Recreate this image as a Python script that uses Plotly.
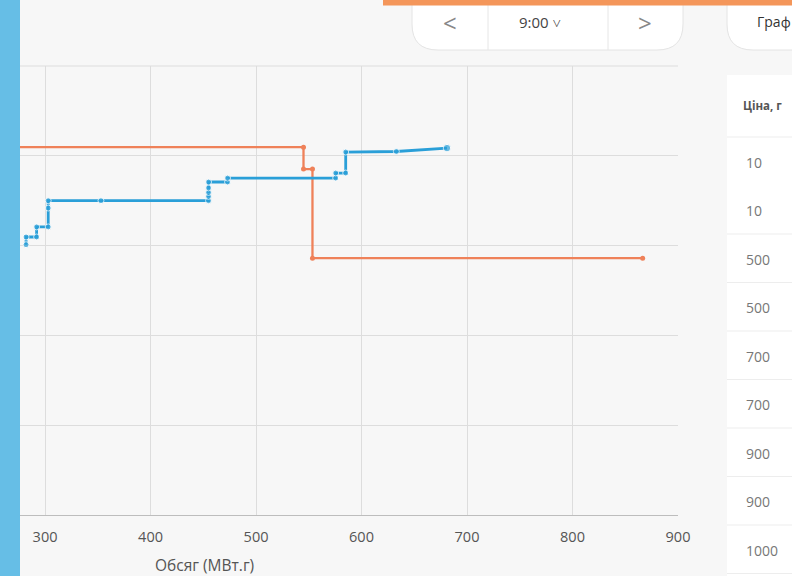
import plotly.graph_objects as go

# ---- data ----
bid_volume = [282, 282, 292, 292, 303, 303, 303, 353, 455, 455, 455, 455, 455, 473, 473,
              575.5, 575.5, 585, 585, 633, 681]
bid_price = [1505, 1548, 1548, 1604, 1604, 1709, 1750, 1750, 1750, 1774, 1796, 1821, 1854, 1854, 1876,
             1876, 1904, 1904, 2021, 2024, 2043]
offer_volume = [200, 545, 545, 553.5, 553.5, 866.5]
offer_price = [2048, 2048, 1926, 1926, 1430, 1430]
x_ticks = [300, 400, 500, 600, 700, 800, 900]
table_header = "Ціна, г"
table_prices = ["10", "10", "500", "500", "700", "700", "900", "900", "1000"]
hour_label = "9:00 ˅"
tab_label = "Граф"
x_title = "Обсяг (МВт.г)"

W, H = 792, 576
ML, MR, MT, MB = 0, 114, 66, 61
PW, PH = W - ML - MR, H - MT - MB
FONT = "Open Sans"


def px(x):
    return (x - ML) / PW


def py(y):
    return (H - MB - y) / PH


blue = "#2a9fd8"
orange = "#ef8159"

fig = go.Figure()
fig.add_trace(go.Scatter(
    x=offer_volume, y=offer_price, mode="lines+markers",
    line=dict(color=orange, width=2.3), marker=dict(color=orange, size=5),
    hoverinfo="skip"))
sizes = [6] * (len(bid_volume) - 1) + [7.5]
fig.add_trace(go.Scatter(
    x=bid_volume, y=bid_price, mode="lines+markers",
    line=dict(color=blue, width=2.8), marker=dict(color=blue, size=sizes),
    hoverinfo="skip"))

shapes = []


def rounded(x0, y0, x1, y1, r, left=True, right=True):
    p = f"M {px(x0)},{py(y0)} "
    if left:
        p += f"L {px(x0)},{py(y1 - r)} Q {px(x0)},{py(y1)} {px(x0 + r)},{py(y1)} "
    else:
        p += f"L {px(x0)},{py(y1)} "
    if right:
        p += f"L {px(x1 - r)},{py(y1)} Q {px(x1)},{py(y1)} {px(x1)},{py(y1 - r)} "
    else:
        p += f"L {px(x1)},{py(y1)} "
    p += f"L {px(x1)},{py(y0)} Z"
    return p


# top border of the plot (gridline at range top)
shapes.append(dict(type="line", xref="paper", yref="paper", x0=0, x1=1, y0=1, y1=1,
                   line=dict(color="#dddddd", width=1), layer="below"))
# pills
shapes.append(dict(type="path", xref="paper", yref="paper", path=rounded(412, -10, 683, 50, 26),
                   fillcolor="white", line=dict(color="#e4e4e4", width=1), layer="above"))
shapes.append(dict(type="path", xref="paper", yref="paper", path=rounded(727, -10, 830, 50, 26, right=False),
                   fillcolor="white", line=dict(color="#e4e4e4", width=1), layer="above"))
for xd in (488, 608):
    shapes.append(dict(type="line", xref="paper", yref="paper", x0=px(xd), x1=px(xd), y0=py(0), y1=py(50),
                       line=dict(color="#e6e6e6", width=1), layer="above"))
# orange top bar
shapes.append(dict(type="rect", xref="paper", yref="paper", x0=px(383), x1=px(800), y0=py(5.5), y1=py(-5),
                   fillcolor="#f4965a", line=dict(width=0), layer="above"))
# left blue bar
shapes.append(dict(type="rect", xref="paper", yref="paper", x0=px(-5), x1=px(20), y0=py(585), y1=py(-5),
                   fillcolor="#66bee6", line=dict(width=0), layer="above"))
# table panel
shapes.append(dict(type="rect", xref="paper", yref="paper", x0=px(727), x1=px(800), y0=py(585), y1=py(75),
                   fillcolor="white", line=dict(width=0), layer="above"))
row_h = 48.5
for i in range(len(table_prices) + 1):
    yl = 137 + row_h * i
    if i == 1:
        continue
    shapes.append(dict(type="line", xref="paper", yref="paper", x0=px(727), x1=px(800), y0=py(yl), y1=py(yl),
                       line=dict(color="#ededed", width=1), layer="above"))

ann = []
ann.append(dict(x=px(450), y=py(23), text="<", font=dict(size=24, color="#888", family=FONT)))
ann.append(dict(x=px(540), y=py(22), text=hour_label, font=dict(size=15, color="#444", family=FONT)))
ann.append(dict(x=px(645), y=py(23), text=">", font=dict(size=24, color="#888", family=FONT)))
ann.append(dict(x=px(755), y=py(22), text=tab_label, xanchor="left", font=dict(size=14, color="#333", family=FONT)))
ann.append(dict(x=px(741), y=py(105), text="<b>" + table_header + "</b>", xanchor="left",
                font=dict(size=11.5, color="#555", family=FONT)))
for i, t in enumerate(table_prices):
    ann.append(dict(x=px(744), y=py(162 + row_h * i), text=t, xanchor="left",
                    font=dict(size=14, color="#777", family=FONT)))
ann.append(dict(x=px(204), y=py(565), text=x_title, font=dict(size=15.5, color="#555", family=FONT)))
for a in ann:
    a.update(xref="paper", yref="paper", showarrow=False)
    a.setdefault("xanchor", "center")
    a["yanchor"] = "middle"

fig.update_layout(
    width=W, height=H,
    margin=dict(l=ML, r=MR, t=MT, b=MB, pad=0),
    paper_bgcolor="#f7f7f7", plot_bgcolor="#f7f7f7",
    showlegend=False, hovermode=False,
    shapes=shapes, annotations=ann,
    xaxis=dict(range=[257.3, 900], tickvals=x_ticks, showgrid=True, gridcolor="#dddddd", gridwidth=1,
               zeroline=False, showline=True, linecolor="#bdbdbd", linewidth=1,
               ticks="outside", ticklen=9, tickcolor="rgba(0,0,0,0)",
               tickfont=dict(size=14.5, color="#555", family=FONT), fixedrange=True),
    yaxis=dict(range=[0, 2500], dtick=500, showgrid=True, gridcolor="#dddddd", gridwidth=1,
               zeroline=False, showticklabels=False, fixedrange=True),
)

fig.write_html("out.html", config=dict(displayModeBar=False),
               post_script="document.body.style.margin='0';document.body.style.overflow='hidden';")
